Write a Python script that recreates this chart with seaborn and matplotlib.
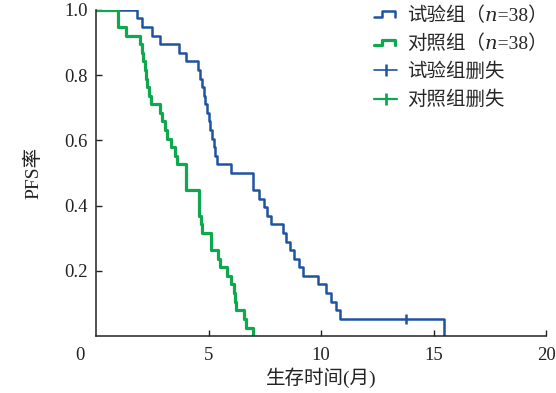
import numpy as np
import pandas as pd
import matplotlib
matplotlib.use("Agg")
import matplotlib.pyplot as plt
import seaborn as sns
from matplotlib.lines import Line2D
from matplotlib.legend_handler import HandlerBase

# =========================
# Data (time in months, PFS rate)
# =========================
trial_time = [0, 1.8, 2.03, 2.47, 2.86, 3.7, 4.0,
              4.55, 4.63, 4.7, 4.78, 4.85, 4.92, 5.0, 5.08, 5.15, 5.23, 5.3, 5.38,
              5.98, 6.96, 7.25, 7.45, 7.6, 7.75,
              8.3, 8.45, 8.6, 8.8, 9.0, 9.2,
              9.87, 10.2, 10.45, 10.65, 10.85, 15.45]
trial_surv = [1.0, 0.974, 0.947, 0.921, 0.895, 0.868, 0.842,
              0.816, 0.789, 0.763, 0.737, 0.711, 0.684, 0.658, 0.632, 0.605, 0.579, 0.553, 0.526,
              0.5, 0.447, 0.421, 0.395, 0.368, 0.342,
              0.316, 0.289, 0.263, 0.237, 0.211, 0.184,
              0.158, 0.132, 0.105, 0.079, 0.053, 0.0]

ctrl_time = [0, 0.96, 1.35,
             1.97, 2.03, 2.1, 2.16, 2.22, 2.28, 2.35, 2.42,
             2.85, 2.92, 3.05, 3.15, 3.35, 3.5, 3.6,
             4.0, 4.58, 4.65, 4.72,
             5.12, 5.43, 5.5, 5.83, 5.98, 6.12, 6.16, 6.2,
             6.56, 6.65, 6.95]
ctrl_surv = [1.0, 0.947, 0.921,
             0.895, 0.868, 0.842, 0.816, 0.789, 0.763, 0.737, 0.711,
             0.684, 0.658, 0.632, 0.605, 0.579, 0.553, 0.526,
             0.447, 0.368, 0.342, 0.316,
             0.263, 0.237, 0.211, 0.184, 0.158, 0.132, 0.105, 0.079,
             0.053, 0.026, 0.0]

trial_censor_time = [13.76]
trial_censor_surv = [0.053]

labels = ['试验组（𝑛=38）', '对照组（𝑛=38）', '试验组删失', '对照组删失']
BLUE = '#1f53a0'
GREEN = '#10a84e'

# =========================
# Style
# =========================
sns.set_theme(style='ticks')
plt.rcParams['font.family'] = ['Liberation Serif', 'Noto Sans CJK SC', 'DejaVu Serif', 'DejaVu Sans']

trial_df = pd.DataFrame({'time': trial_time, 'surv': trial_surv})
ctrl_df = pd.DataFrame({'time': ctrl_time, 'surv': ctrl_surv})
censor_df = pd.DataFrame({'time': trial_censor_time, 'surv': trial_censor_surv})

fig = plt.figure(figsize=(5.56, 3.93), dpi=100)
ax = fig.add_axes([0.1727, 0.145, 0.81, 0.83])

sns.lineplot(data=trial_df, x='time', y='surv', ax=ax, color=BLUE, linewidth=1.8,
             drawstyle='steps-post', estimator=None, sort=False)
sns.lineplot(data=ctrl_df, x='time', y='surv', ax=ax, color=GREEN, linewidth=2.3,
             drawstyle='steps-post', estimator=None, sort=False)
sns.scatterplot(data=censor_df, x='time', y='surv', ax=ax, color=BLUE, marker='|',
                s=60, linewidth=1.8, zorder=5)

ax.set_xlim(0, 20)
ax.set_ylim(0, 1.0)
ax.set_xticks([5, 10, 15, 20])
ax.set_yticks([0.2, 0.4, 0.6, 0.8, 1.0])
ax.set_yticklabels(['0.2', '0.4', '0.6', '0.8', '1.0'])
ax.tick_params(direction='in', length=4, width=1, labelsize=13.5, colors='#222222')
ax.tick_params(axis='x', pad=8)
ax.tick_params(axis='y', pad=6)
for sp in ['top', 'right']:
    ax.spines[sp].set_visible(False)
for sp in ['left', 'bottom']:
    ax.spines[sp].set_linewidth(1.1)
    ax.spines[sp].set_color('#222222')

# shared origin label
ax.annotate('0', xy=(-0.7, 0), xycoords=('data', 'axes fraction'),
            xytext=(0, -8), textcoords='offset points', ha='center', va='top',
            fontsize=13.5, color='#222222', annotation_clip=False)

ax.set_xlabel('生存时间(月)', fontsize=14, color='#222222', labelpad=2)
ax.set_ylabel('PFS率', fontsize=14, color='#222222', labelpad=16)


# step-shaped legend icon
class StepHandler(HandlerBase):
    def create_artists(self, legend, orig_handle, xdescent, ydescent, width, height, fontsize, trans):
        lo = height * 0.3
        hi = height * 0.7
        xs = [0, width * 0.35, width * 0.35, width * 0.9, width * 0.9]
        ys = [lo, lo, hi, hi, lo]
        ln = Line2D(xs, ys, color=orig_handle.get_color(), linewidth=orig_handle.get_linewidth(),
                    transform=trans)
        return [ln]


h1 = Line2D([0], [0], color=BLUE, linewidth=1.8)
h2 = Line2D([0], [0], color=GREEN, linewidth=2.3)
h3 = Line2D([0], [0], color=BLUE, linewidth=1.2, marker='|', markersize=8, markeredgewidth=1.8)
h4 = Line2D([0], [0], color=GREEN, linewidth=1.6, marker='|', markersize=8, markeredgewidth=2.0)

ax.legend([h1, h2, h3, h4], labels,
          handler_map={h1: StepHandler(), h2: StepHandler()},
          loc='upper left', bbox_to_anchor=(0.6, 1.035), frameon=False,
          fontsize=14, handlelength=1.2, handletextpad=0.5, labelspacing=0.5,
          borderaxespad=0)

fig.savefig('out.png', dpi=100)
